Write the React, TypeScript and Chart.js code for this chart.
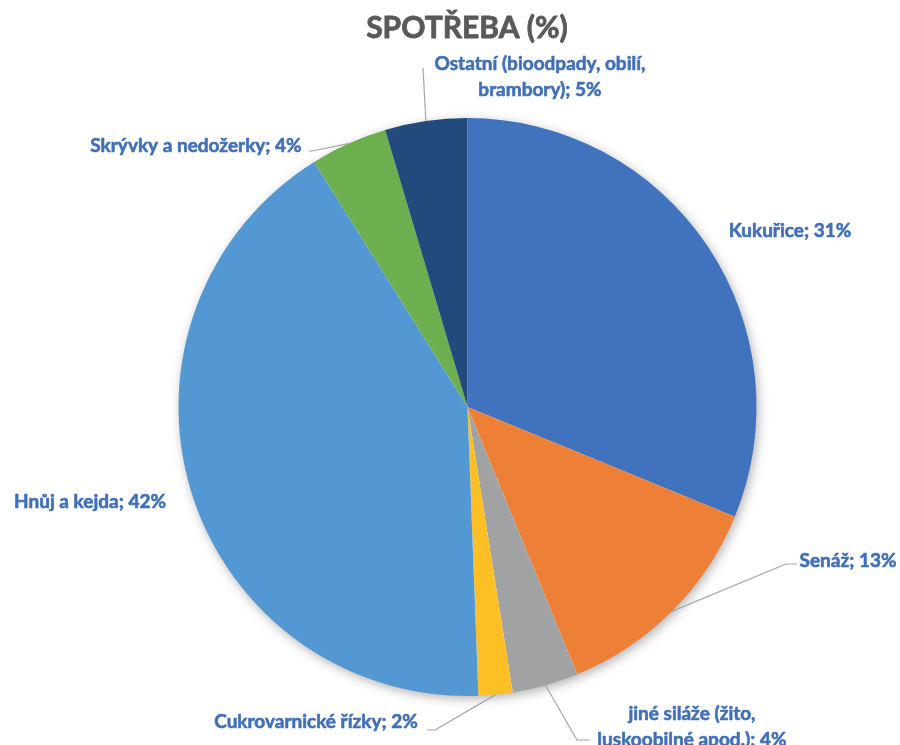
import React, { useEffect, useRef } from 'react';
import { Chart, registerables } from 'chart.js';

Chart.register(...registerables);

const TITLE = 'SPOTŘEBA (%)';
const categories = [
  'Kukuřice',
  'Senáž',
  'jiné siláže (žito, luskoobilné apod.)',
  'Cukrovarnické řízky',
  'Hnůj a kejda',
  'Skrývky a nedožerky',
  'Ostatní (bioodpady, obilí, brambory)',
];
const shares = [31.2, 12.6, 3.7, 1.9, 41.7, 4.3, 4.6];
const nameLines = [
  ['Kukuřice'],
  ['Senáž'],
  ['jiné siláže (žito,', 'luskoobilné apod.)'],
  ['Cukrovarnické řízky'],
  ['Hnůj a kejda'],
  ['Skrývky a nedožerky'],
  ['Ostatní (bioodpady, obilí,', 'brambory)'],
];
const colors = ['#4072BE', '#EE7F36', '#A0A2A3', '#FDBF26', '#5398D2', '#6DAF4E', '#224A7C'];

// label layout (text block centres, first line) and leader elbows
const labelPos: [number, number][] = [
  [790, 231],
  [848, 561],
  [692, 714],
  [316, 722],
  [90, 502],
  [196, 146],
  [540, 64],
];
const leaders: ([number, number, number] | null)[] = [
  null,
  [786, 564, 797],
  [577, 740, 590],
  [435, 730, 427],
  null,
  [312, 151, 309],
  [423, 68, 423],
];

const FONT = 'Lato, "Open Sans", sans-serif';
const LABEL_COLOR = '#4070BA';

const shadowPlugin = {
  id: 'pieShadow',
  beforeDatasetsDraw(chart: any) {
    const meta = chart.getDatasetMeta(0);
    const el = meta.data[0];
    if (!el) return;
    const { x, y, outerRadius } = el.getProps(['x', 'y', 'outerRadius'], true);
    const ctx = chart.ctx;
    ctx.save();
    ctx.shadowColor = 'rgba(0,0,0,0.35)';
    ctx.shadowBlur = 12;
    ctx.shadowOffsetX = 2;
    ctx.shadowOffsetY = 3;
    ctx.fillStyle = '#ffffff';
    ctx.beginPath();
    ctx.arc(x, y, outerRadius - 1, 0, Math.PI * 2);
    ctx.fill();
    ctx.restore();
  },
};

const labelPlugin = {
  id: 'pieLabels',
  afterDatasetsDraw(chart: any) {
    const ctx = chart.ctx;
    const meta = chart.getDatasetMeta(0);
    ctx.save();
    // title
    ctx.fillStyle = '#595959';
    ctx.strokeStyle = '#595959';
    ctx.lineWidth = 0.8;
    ctx.lineJoin = 'round';
    ctx.font = `bold 30px ${FONT}`;
    ctx.textAlign = 'center';
    ctx.textBaseline = 'middle';
    ctx.fillText(TITLE, 467, 28);
    ctx.strokeText(TITLE, 467, 28);

    meta.data.forEach((el: any, i: number) => {
      const p = el.getProps(['x', 'y', 'startAngle', 'endAngle', 'outerRadius'], true);
      const mid = (p.startAngle + p.endAngle) / 2;
      const ld = leaders[i];
      if (ld) {
        const sx = p.x + Math.cos(mid) * p.outerRadius;
        const sy = p.y + Math.sin(mid) * p.outerRadius;
        ctx.strokeStyle = '#A6A6A6';
        ctx.lineWidth = 1.2;
        ctx.beginPath();
        ctx.moveTo(sx, sy);
        ctx.lineTo(ld[0], ld[1]);
        ctx.lineTo(ld[2], ld[1]);
        ctx.stroke();
      }
      const lines = nameLines[i].slice();
      lines[lines.length - 1] = lines[lines.length - 1] + '; ' + Math.round(shares[i]) + '%';
      ctx.fillStyle = LABEL_COLOR;
      ctx.strokeStyle = LABEL_COLOR;
      ctx.lineWidth = 0.6;
      ctx.font = `bold 19px ${FONT}`;
      ctx.textAlign = 'center';
      ctx.textBaseline = 'middle';
      lines.forEach((t: string, k: number) => {
        const ty = labelPos[i][1] + k * 26;
        ctx.fillText(t, labelPos[i][0], ty);
        ctx.strokeText(t, labelPos[i][0], ty);
      });
    });
    ctx.restore();
  },
};

export default function App() {
  const ref = useRef<HTMLCanvasElement>(null);
  useEffect(() => {
    if (!ref.current) return;
    const chart = new Chart(ref.current, {
      type: 'pie',
      data: {
        labels: categories,
        datasets: [
          {
            data: shares,
            backgroundColor: colors,
            borderWidth: 0,
          },
        ],
      },
      options: {
        responsive: false,
        animation: false,
        layout: { padding: { left: 178, right: 143, top: 118, bottom: 49 } },
        plugins: {
          legend: { display: false },
          tooltip: { enabled: false },
          title: { display: false },
        },
      },
      plugins: [shadowPlugin, labelPlugin],
    });
    return () => chart.destroy();
  }, []);
  return (
    <div style={{ position: 'fixed', left: 0, top: 0, width: 900, height: 745, background: '#fff' }}>
      <canvas ref={ref} width={900} height={745} />
    </div>
  );
}
